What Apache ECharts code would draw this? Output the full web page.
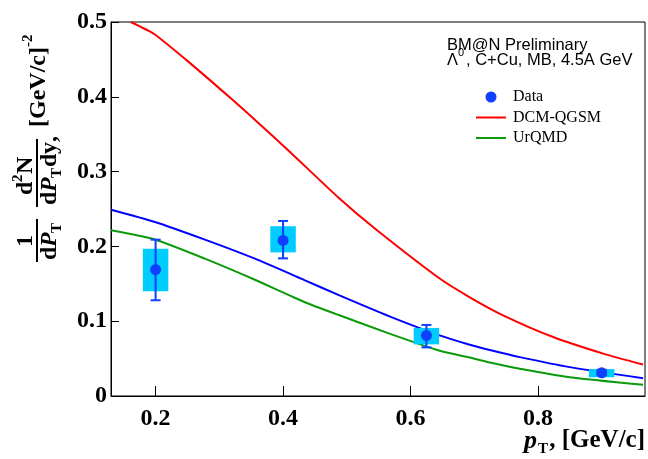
<!DOCTYPE html>
<html>
<head>
<meta charset="utf-8">
<script src="https://cdn.jsdelivr.net/npm/echarts@6/dist/echarts.min.js"></script>
<style>
  html, body { margin: 0; padding: 0; background: #fff; }
  #chart { width: 648px; height: 459px; }
</style>
</head>
<body>
<div id="chart"></div>
<script>
// Lambda0 pT spectrum, C+Cu minimum bias at 4.5A GeV
const dataX     = [0.2, 0.4, 0.625, 0.9];
const dataY     = [0.169, 0.208, 0.081, 0.031];
const statLow   = [0.128, 0.184, 0.065, 0.028];
const statHigh  = [0.209, 0.234, 0.095, 0.035];
const sysLow    = [0.140, 0.192, 0.069, 0.025];
const sysHigh   = [0.197, 0.227, 0.091, 0.036];
const sysHalfW  = 0.02;

const dcmX = [0.161, 0.1976, 0.2475, 0.318, 0.36, 0.41, 0.4885, 0.546, 0.6458, 0.693, 0.7453, 0.8239, 0.9025, 0.965];
const dcmY = [0.5, 0.484, 0.4497, 0.398, 0.366, 0.327, 0.264, 0.2225, 0.157, 0.132, 0.1079, 0.0788, 0.0566, 0.042];

const fitX = [0.13, 0.1976, 0.2763, 0.3549, 0.4335, 0.4885, 0.567, 0.6458, 0.693, 0.7244, 0.7715, 0.85, 0.965];
const fitY = [0.249, 0.233, 0.2094, 0.1839, 0.155, 0.1345, 0.1065, 0.081, 0.0685, 0.0615, 0.052, 0.0386, 0.0238];

const urqmdX = [0.13, 0.1976, 0.2763, 0.3549, 0.4335, 0.4885, 0.567, 0.6458, 0.693, 0.7244, 0.7715, 0.85, 0.965];
const urqmdY = [0.2215, 0.2095, 0.1839, 0.1557, 0.1257, 0.1079, 0.0834, 0.0605, 0.0515, 0.0448, 0.0365, 0.0252, 0.015];

const xTicks = [0.2, 0.4, 0.6, 0.8];

const zip = (xs, ys) => xs.map((x, i) => [x, ys[i]]);

const SERIF = '"Liberation Serif", "Times New Roman", serif';
const SANS = '"Liberation Sans", Arial, sans-serif';
const DATA_BLUE = '#0f3fff';
const LINE_ICON = 'path://M0,0 L30,0 L30,2 L0,2 Z';

const chart = echarts.init(document.getElementById('chart'), null, { renderer: 'canvas' });

// y-axis title, laid out horizontally and then turned to read bottom-to-top
function yTitle() {
  const b = 'bold 24px ' + SERIF;
  const bi = 'italic bold 24px ' + SERIF;
  const small = 'bold 15px ' + SERIF;
  const t = (text, x, y, font, align) => ({
    type: 'text', x, y,
    style: { text, font, fill: '#000', align: align || 'left', verticalAlign: 'middle' }
  });
  const bar = (x1, x2) => ({
    type: 'line', shape: { x1, y1: 0, x2, y2: 0 },
    style: { stroke: '#000', lineWidth: 2 }
  });
  return {
    type: 'group', x: 37, y: 263, rotation: Math.PI / 2,
    children: [
      // 1 / dP_T
      t('1', 22, -11, b, 'center'),
      bar(1, 44),
      t('d', 3, 13, b), t('P', 16, 13, bi), t('T', 30, 20, small),
      // d2N / dP_T dy
      t('d', 68, -11, b), t('2', 81, -19, small), t('N', 89, -11, b),
      bar(56, 124),
      t('d', 58, 13, b), t('P', 71, 13, bi), t('T', 85, 20, small),
      t('d', 96, 13, b), t('y', 109, 13, b), t(',', 121, 13, b),
      // units
      t('[GeV/c]', 136, 2, b),
      t('-2', 216, -9, small)
    ]
  };
}

function xTitle() {
  return {
    type: 'group',
    children: [
      { type: 'text', x: 524, y: 441, style: { text: 'p', font: 'italic bold 26px ' + SERIF, fill: '#000', verticalAlign: 'middle' } },
      { type: 'text', x: 538, y: 449, style: { text: 'T', font: 'bold 15px ' + SERIF, fill: '#000', verticalAlign: 'middle' } },
      { type: 'text', x: 645, y: 441, style: { text: ', [GeV/c]', font: 'bold 25px ' + SERIF, fill: '#000', align: 'right', verticalAlign: 'middle' } }
    ]
  };
}

const curve = (name, xs, ys, color) => ({
  name, type: 'line', data: zip(xs, ys),
  smooth: 0.2,
  showSymbol: false, symbol: 'none', clip: true,
  lineStyle: { color, width: 2 }, itemStyle: { color }, z: 2
});

const option = {
  backgroundColor: '#fff',
  animation: false,
  grid: {
    left: 111, right: 3, top: 22, bottom: 63,
    show: true, borderColor: '#000', borderWidth: 1, backgroundColor: 'transparent'
  },
  xAxis: {
    type: 'value', min: 0.13, max: 0.968,
    axisLine: { show: true, onZero: false, lineStyle: { color: '#000', width: 1 } },
    axisTick: { show: true, inside: true, length: 10, lineStyle: { color: '#000' }, customValues: xTicks },
    axisLabel: {
      customValues: xTicks, margin: 11,
      formatter: v => v.toFixed(1),
      fontSize: 24, fontWeight: 'bold', fontFamily: SERIF, color: '#000'
    },
    splitLine: { show: false }
  },
  yAxis: {
    type: 'value', min: 0, max: 0.5, interval: 0.1,
    axisLine: { show: true, lineStyle: { color: '#000', width: 1 } },
    axisTick: { show: true, inside: true, length: 8, lineStyle: { color: '#000' } },
    axisLabel: {
      margin: 4,
      formatter: v => (v === 0 ? '0' : v.toFixed(1)),
      fontSize: 24, fontWeight: 'bold', fontFamily: SERIF, color: '#000'
    },
    splitLine: { show: false }
  },
  legend: {
    data: [
      { name: 'Data', icon: 'circle', itemStyle: { color: DATA_BLUE, opacity: 1 } },
      { name: 'DCM-QGSM', icon: LINE_ICON },
      { name: 'UrQMD', icon: LINE_ICON }
    ],
    orient: 'vertical', left: 476, top: 89, padding: 0,
    itemWidth: 30, itemHeight: 11, itemGap: 4.5,
    textStyle: { fontFamily: SERIF, fontSize: 16, color: '#000', lineHeight: 16, padding: [0, 0, 0, 2] }
  },
  series: [
    curve('DCM-QGSM', dcmX, dcmY, '#ff0000'),
    curve('Fit', fitX, fitY, '#0000ff'),
    curve('UrQMD', urqmdX, urqmdY, '#0a9a0a'),
    {
      // systematic uncertainty boxes
      name: 'Sys', type: 'custom', z: 3,
      data: dataX.map((x, i) => [x, sysLow[i], sysHigh[i]]),
      renderItem: (params, api) => {
        const p1 = api.coord([api.value(0) - sysHalfW, api.value(2)]);
        const p2 = api.coord([api.value(0) + sysHalfW, api.value(1)]);
        return {
          type: 'rect',
          shape: { x: p1[0], y: p1[1], width: p2[0] - p1[0], height: p2[1] - p1[1] },
          style: { fill: '#00ccff' }
        };
      }
    },
    {
      // statistical error bars
      name: 'Stat', type: 'custom', z: 4,
      data: dataX.map((x, i) => [x, statLow[i], statHigh[i]]),
      renderItem: (params, api) => {
        const lo = api.coord([api.value(0), api.value(1)]);
        const hi = api.coord([api.value(0), api.value(2)]);
        const cap = 5;
        const st = { stroke: DATA_BLUE, lineWidth: 2 };
        return {
          type: 'group',
          children: [
            { type: 'line', shape: { x1: lo[0], y1: lo[1], x2: hi[0], y2: hi[1] }, style: st },
            { type: 'line', shape: { x1: lo[0] - cap, y1: lo[1], x2: lo[0] + cap, y2: lo[1] }, style: st },
            { type: 'line', shape: { x1: hi[0] - cap, y1: hi[1], x2: hi[0] + cap, y2: hi[1] }, style: st }
          ]
        };
      }
    },
    {
      name: 'Data', type: 'scatter', z: 5,
      data: zip(dataX, dataY), symbol: 'circle', symbolSize: 11,
      itemStyle: { color: DATA_BLUE, opacity: 1 }
    }
  ],
  graphic: [
    { type: 'text', x: 447, y: 45, style: { text: 'BM@N Preliminary', font: '16.5px ' + SANS, fill: '#000', verticalAlign: 'middle' } },
    { type: 'text', x: 447, y: 60, style: { text: 'Λ', font: '16.5px ' + SANS, fill: '#000', verticalAlign: 'middle' } },
    { type: 'text', x: 458, y: 53, style: { text: '0', font: '11px ' + SANS, fill: '#000', verticalAlign: 'middle' } },
    { type: 'text', x: 466, y: 60, style: { text: ', C+Cu, MB, 4.5A GeV', font: '16.5px ' + SANS, fill: '#000', verticalAlign: 'middle' } },
    yTitle(),
    xTitle()
  ]
};

chart.setOption(option);
</script>
</body>
</html>
